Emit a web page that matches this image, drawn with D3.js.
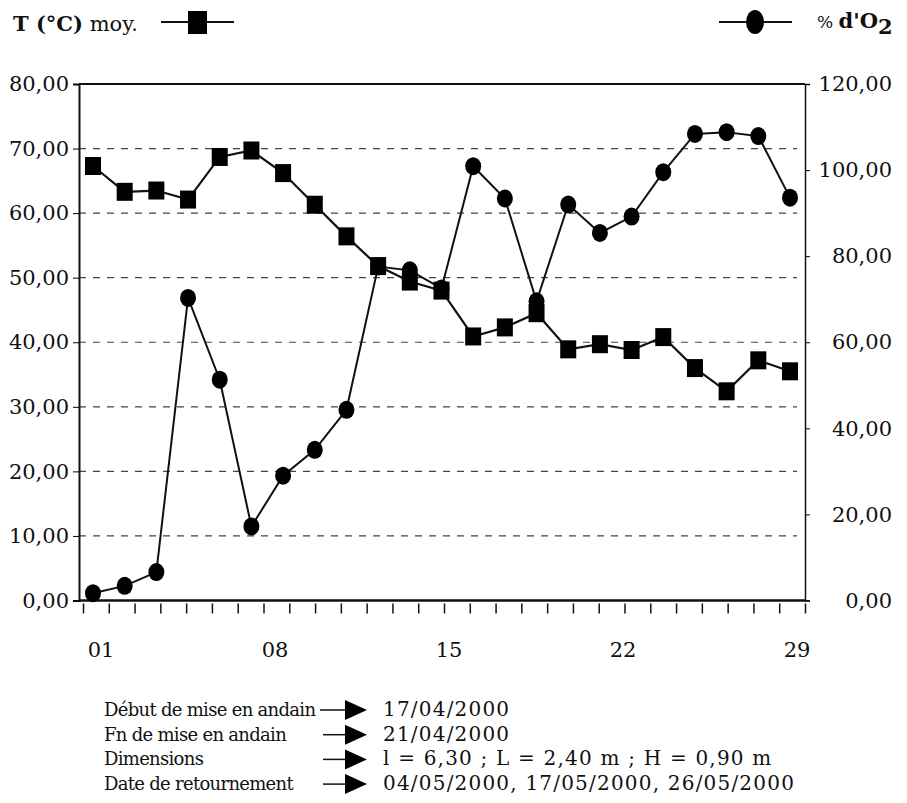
<!DOCTYPE html>
<html>
<head>
<meta charset="utf-8">
<script src="https://cdn.jsdelivr.net/npm/d3@7"></script>
<style>
  body { margin: 0; background: #fff; }
  svg { display: block; }
  text { font-family: "DejaVu Serif", serif; fill: #111; }
</style>
</head>
<body>
<div id="chart"></div>
<script>
// Mesures (23 relevés)
const tempMoy = [67.3, 63.3, 63.5, 62.1, 68.7, 69.7, 66.2, 61.3, 56.4, 51.8, 49.4, 48.0,
                 40.9, 42.3, 44.5, 38.9, 39.7, 38.8, 40.8, 36.0, 32.4, 37.2, 35.5];
const oxygen = [1.7, 3.4, 6.6, 70.3, 51.3, 17.2, 29.0, 35.0, 44.3, 77.6, 76.7, 72.5,
                100.9, 93.4, 69.5, 92.0, 85.4, 89.2, 99.5, 108.4, 108.8, 107.9, 93.6];

// Axes
const leftTicks = [0, 10, 20, 30, 40, 50, 60, 70, 80];
const rightTicks = [0, 20, 40, 60, 80, 100, 120];
const dayLabels = ['01', '08', '15', '22', '29'];

// Notes sous le graphique
const noteLabels = ['Début de mise en andain', 'Fn de mise en andain', 'Dimensions', 'Date de retournement'];
const noteValues = ['17/04/2000', '21/04/2000', 'l = 6,30 ; L = 2,40 m ; H = 0,90 m',
                    '04/05/2000, 17/05/2000, 26/05/2000'];

const fmt = d3.formatLocale({decimal: ',', thousands: ' ', grouping: [3], currency: ['', '']}).format('.2f');

const W = 907, H = 803;
const plot = {left: 79, right: 805, top: 84, bottom: 600.5};

const svg = d3.select('#chart').append('svg')
    .attr('width', W).attr('height', H);
svg.append('rect').attr('width', W).attr('height', H).attr('fill', '#fff');

// Scales
const yLeft = d3.scaleLinear().domain([0, 80]).range([plot.bottom, plot.top]);
const yRight = d3.scaleLinear().domain([0, 120]).range([plot.bottom, plot.top]);
const xDay = d3.scaleLinear().domain([1, 29]).range([83, plot.right]);
const xLabel = d3.scaleLinear().domain([1, 29]).range([101, 797]);
const xPt = d3.scalePoint().domain(d3.range(tempMoy.length)).range([93, 790]);

// Gridlines (dashed)
svg.append('g')
    .selectAll('line')
    .data(leftTicks.filter(d => d > 0 && d < 80))
    .enter().append('line')
    .attr('x1', plot.left).attr('x2', plot.right - 8)
    .attr('y1', d => yLeft(d)).attr('y2', d => yLeft(d))
    .attr('stroke', '#444').attr('stroke-width', 1.2)
    .attr('stroke-dasharray', '7,7');

// Left axis
const leftAxis = svg.append('g')
    .attr('transform', `translate(${plot.left},0)`)
    .call(d3.axisLeft(yLeft).tickValues(leftTicks).tickFormat(fmt).tickSize(6).tickPadding(4));
leftAxis.select('.domain').attr('stroke', '#111').attr('stroke-width', 2);
leftAxis.selectAll('text').style('font-size', '21px').attr('font-family', 'DejaVu Serif');

// Right axis
const rightAxis = svg.append('g')
    .attr('transform', `translate(${plot.right},0)`)
    .call(d3.axisRight(yRight).tickValues(rightTicks).tickFormat(fmt).tickSize(5).tickPadding(10));
rightAxis.select('.domain').attr('stroke', '#111').attr('stroke-width', 1.5);
rightAxis.selectAll('text')
    .style('font-size', '21px').attr('font-family', 'DejaVu Serif')
    .attr('text-anchor', 'end').attr('x', 87);

// Top border
svg.append('line')
    .attr('x1', plot.left).attr('x2', plot.right)
    .attr('y1', plot.top).attr('y2', plot.top)
    .attr('stroke', '#111').attr('stroke-width', 2);

// Bottom axis: a tick every day, labels every week
const bottomAxis = svg.append('g')
    .attr('transform', `translate(0,${plot.bottom})`)
    .call(d3.axisBottom(xDay).tickValues(d3.range(1, 30)).tickFormat('').tickSize(13));
bottomAxis.select('.domain').attr('d', `M${plot.left},0H${plot.right}`)
    .attr('stroke', '#111').attr('stroke-width', 2.5);
bottomAxis.selectAll('.tick line').attr('stroke', '#111').attr('stroke-width', 1.5)
    .attr('y1', 3);

svg.append('g')
    .selectAll('text')
    .data(dayLabels)
    .enter().append('text')
    .attr('x', d => xLabel(+d))
    .attr('y', 657)
    .attr('text-anchor', 'middle')
    .style('font-size', '21px')
    .text(d => d);

// Series lines
const lineT = d3.line().x((d, i) => xPt(i)).y(d => yLeft(d));
const lineO = d3.line().x((d, i) => xPt(i)).y(d => yRight(d));

svg.append('path').datum(oxygen)
    .attr('d', lineO).attr('fill', 'none')
    .attr('stroke', '#111').attr('stroke-width', 2);
svg.append('path').datum(tempMoy)
    .attr('d', lineT).attr('fill', 'none')
    .attr('stroke', '#111').attr('stroke-width', 2.2);

// Markers
svg.append('g').selectAll('ellipse')
    .data(oxygen)
    .enter().append('ellipse')
    .attr('cx', (d, i) => xPt(i)).attr('cy', d => yRight(d))
    .attr('rx', 8).attr('ry', 9).attr('fill', '#000');

svg.append('g').selectAll('rect')
    .data(tempMoy)
    .enter().append('rect')
    .attr('x', (d, i) => xPt(i) - 8).attr('y', d => yLeft(d) - 9)
    .attr('width', 16).attr('height', 18).attr('fill', '#000');

// Legends
const legT = svg.append('g');
const tText = legT.append('text').attr('x', 13).attr('y', 31).style('font-size', '21px');
tText.append('tspan').attr('font-weight', 'bold').text('T (°C)');
tText.append('tspan').text(' moy.');
legT.append('line').attr('x1', 161).attr('x2', 234).attr('y1', 22).attr('y2', 22)
    .attr('stroke', '#111').attr('stroke-width', 2);
legT.append('rect').attr('x', 188).attr('y', 11).attr('width', 19).attr('height', 23).attr('fill', '#000');

const legO = svg.append('g');
legO.append('line').attr('x1', 719).attr('x2', 792).attr('y1', 22).attr('y2', 22)
    .attr('stroke', '#111').attr('stroke-width', 2);
legO.append('ellipse').attr('cx', 755).attr('cy', 22).attr('rx', 9).attr('ry', 12).attr('fill', '#000');
const oText = legO.append('text').attr('x', 817).attr('y', 28).style('font-size', '21px');
oText.append('tspan').style('font-size', '17px').text('% ');
oText.append('tspan').attr('font-weight', 'bold').text("d'O");
oText.append('tspan').attr('font-weight', 'bold').attr('dy', 6).text('2');

// Notes with arrows
const notes = svg.append('g');
noteLabels.forEach((lab, i) => {
    const y = 716 + i * 24.7;
    notes.append('text').attr('x', 104).attr('y', y)
        .style('font-size', '18px').style('letter-spacing', '-0.7px').text(lab);
    const x0 = i === 0 ? 320 : 323;
    notes.append('line').attr('x1', x0).attr('x2', 348).attr('y1', y - 6).attr('y2', y - 6)
        .attr('stroke', '#111').attr('stroke-width', 1.5);
    notes.append('path')
        .attr('d', `M345,${y - 16}L367,${y - 6}L345,${y + 4}Z`)
        .attr('fill', '#000');
    notes.append('text').attr('x', 383).attr('y', y)
        .style('font-size', '20px').style('letter-spacing', '1.2px').text(noteValues[i]);
});
</script>
</body>
</html>
